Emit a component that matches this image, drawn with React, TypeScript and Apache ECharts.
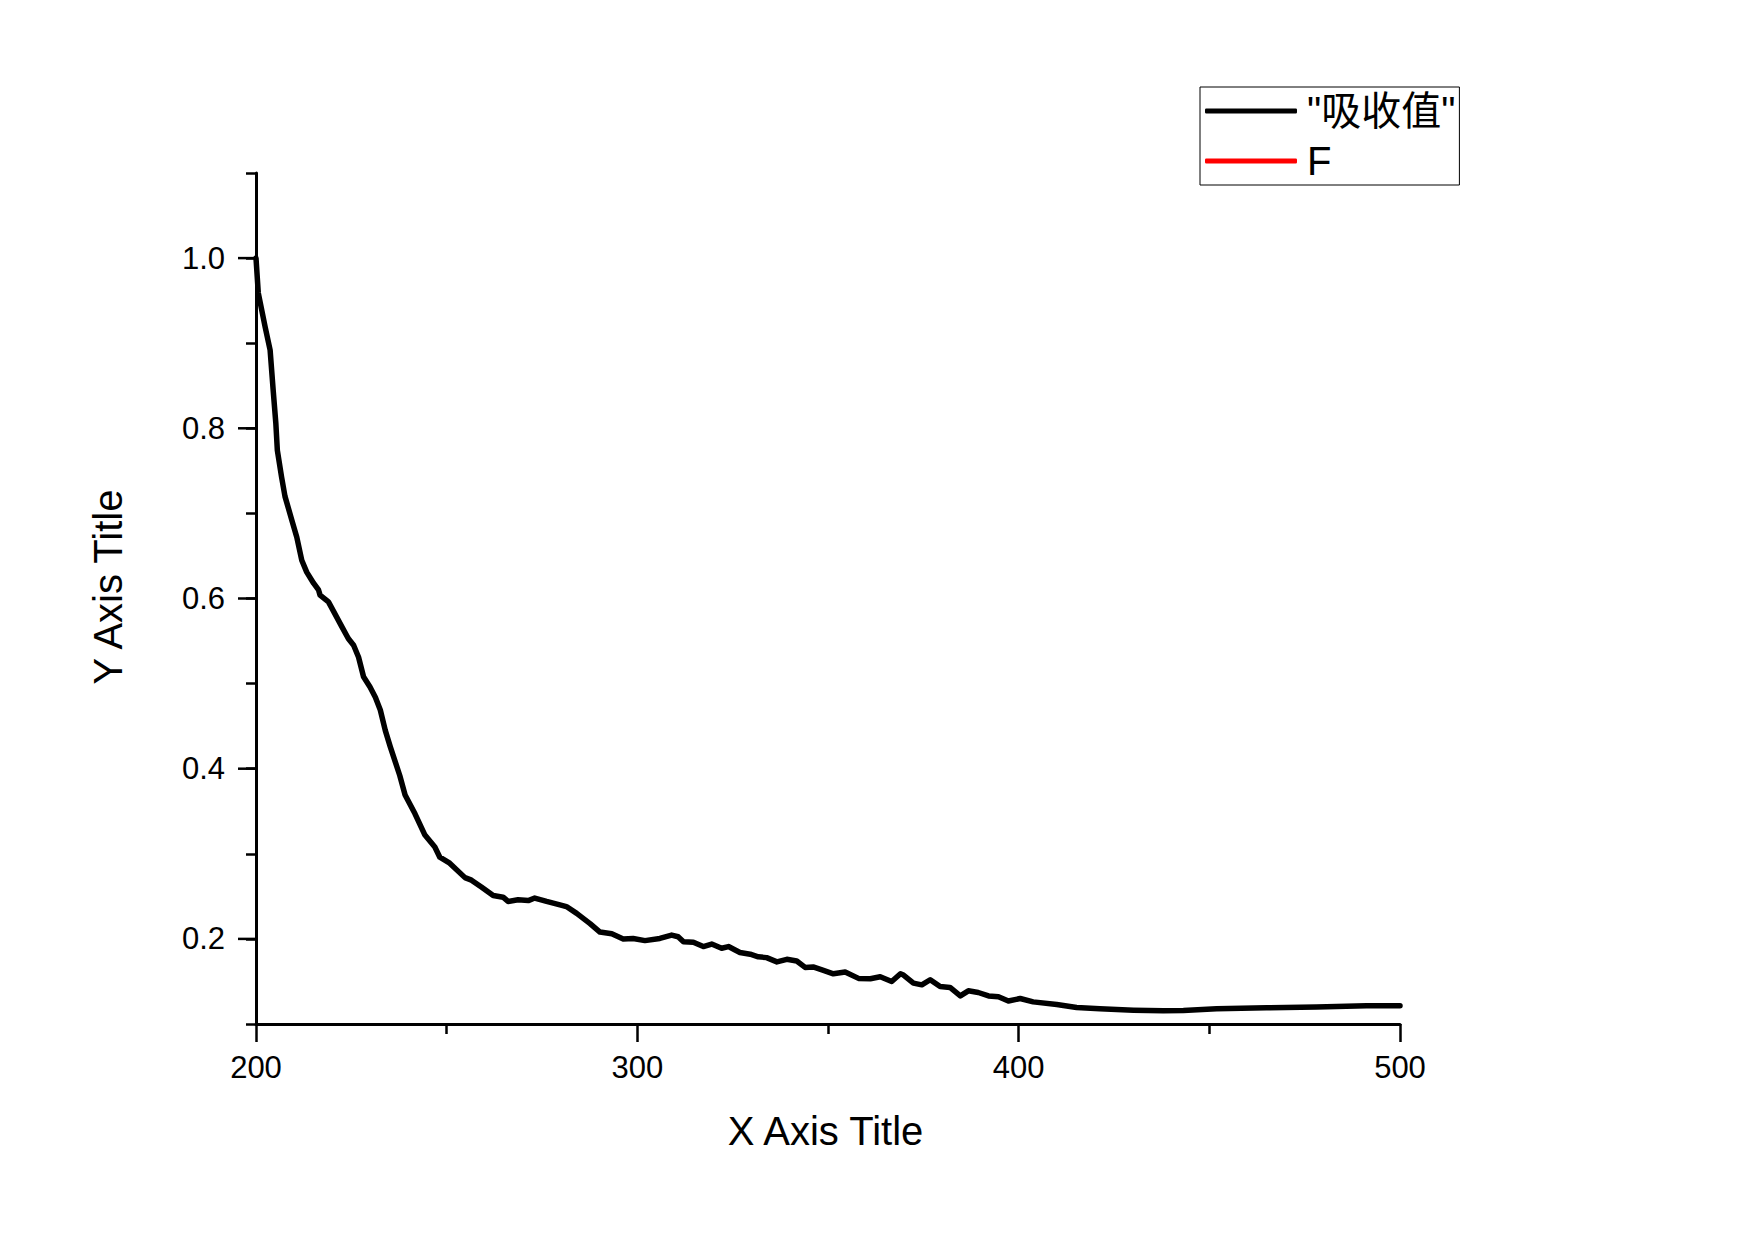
import React, { useEffect, useRef } from "react";
import * as echarts from "echarts";

const wavelength = [
  200, 200.6, 202.4, 203.7, 204.5, 205.2, 205.6, 206.7, 207.6, 209.4,
  210.7, 212.0, 213.3, 215.1, 216.4, 216.8, 219.0, 220.7, 222.5, 224.2,
  225.6, 226.9, 228.2, 229.9, 231.3, 232.6, 233.9, 235.2,
  237.7, 239.1, 241.7, 244.3, 246.9, 248.2, 250.8, 254.8, 256.5, 259.1,
  262.2, 264.8, 266.1, 268.7, 271.4, 273.1, 276.2, 279.7, 281.4, 284.1,
  287.6, 290.2, 293.3, 296.3, 298.9, 302.0, 305.9, 309.0, 310.7, 312.1,
  314.7, 317.3, 319.5, 322.1, 323.9, 326.9, 329.6, 331.7, 333.9, 336.6,
  339.2, 341.8, 344.0, 346.1, 348.8, 351.4, 354.5, 358.0, 361.1, 363.7,
  366.7, 369.0,
  369.8, 372.4, 374.6, 376.8, 379.4, 382.0, 384.7, 386.8, 389.4, 392.1,
  394.7, 397.3, 400.4, 403.8, 410.0, 415.2, 421.3, 430.1, 437.9, 443.2,
  451.9, 465.0, 478.1, 491.2, 500,
];

const absorbance = [
  1.0, 0.959, 0.919, 0.892, 0.845, 0.806, 0.774, 0.743, 0.72, 0.692,
  0.672, 0.645, 0.631, 0.618, 0.61, 0.604, 0.596, 0.582, 0.567, 0.553,
  0.545, 0.531, 0.508, 0.496, 0.484, 0.469, 0.445, 0.426,
  0.392, 0.369, 0.347, 0.322, 0.308, 0.296, 0.289, 0.272, 0.269, 0.261,
  0.251, 0.249, 0.244, 0.246, 0.245, 0.248, 0.244, 0.24, 0.238, 0.23,
  0.218, 0.208, 0.206, 0.2, 0.2005, 0.198, 0.2005, 0.2045, 0.2025, 0.1966,
  0.196, 0.191, 0.194, 0.189, 0.191, 0.184, 0.182, 0.179, 0.178, 0.173,
  0.176, 0.174, 0.1665, 0.167, 0.163, 0.159, 0.161, 0.1536, 0.1532, 0.1555,
  0.15, 0.159,
  0.1575, 0.148, 0.146, 0.152, 0.144, 0.143, 0.133, 0.139, 0.137, 0.133,
  0.132, 0.127, 0.13, 0.126, 0.123, 0.1195, 0.118, 0.1163, 0.1155, 0.116,
  0.118, 0.119, 0.12, 0.1214, 0.1214,
];

const seriesNames = ['"吸收值"', "F"];
const majorYTicks = [0.2, 0.4, 0.6, 0.8, 1.0];
const xAxisTitle = "X Axis Title";
const yAxisTitle = "Y Axis Title";

const FONT = "'Liberation Sans', Arial, 'Noto Sans CJK SC', sans-serif";

export default function App() {
  const ref = useRef<HTMLDivElement>(null);

  useEffect(() => {
    if (!ref.current) return;
    const chart = echarts.init(ref.current, null, { renderer: "svg" });
    const mainData = wavelength.map((x, i) => [x, absorbance[i]]);
    const option: any = {
      animation: false,
      backgroundColor: "#fff",
      textStyle: { fontFamily: FONT },
      grid: {
        left: 256,
        right: 353,
        top: 173,
        bottom: 215,
        containLabel: false,
        outerBoundsMode: "none",
      },
      legend: {
        orient: "vertical",
        left: 1200,
        top: 87,
        padding: [4, 4, 4, 5],
        itemGap: 10,
        itemWidth: 92,
        itemHeight: 5,
        icon: "roundRect",
        borderColor: "#000",
        borderWidth: 1,
        data: seriesNames,
        textStyle: {
          fontFamily: FONT,
          fontSize: 40,
          lineHeight: 40,
          color: "#000",
          padding: [0, 0, 0, 5],
        },
      },
      xAxis: {
        type: "value",
        min: 200,
        max: 500,
        interval: 100,
        name: xAxisTitle,
        nameLocation: "middle",
        nameGap: 87,
        nameTextStyle: { fontFamily: FONT, fontSize: 40, color: "#000", padding: [0, 5, 0, 0] },
        axisLine: { show: true, onZero: false, lineStyle: { color: "#000", width: 3 } },
        axisTick: { show: true, length: 18, lineStyle: { color: "#000", width: 2.5 } },
        minorTick: { show: true, splitNumber: 2, length: 10, lineStyle: { color: "#000", width: 2.5 } },
        axisLabel: { fontFamily: FONT, fontSize: 31, color: "#000", margin: 28 },
        splitLine: { show: false },
        minorSplitLine: { show: false },
      },
      yAxis: {
        type: "value",
        min: 0.1,
        max: 1.1,
        interval: 0.1,
        name: yAxisTitle,
        nameLocation: "middle",
        nameGap: 128,
        nameTextStyle: { fontFamily: FONT, fontSize: 40, color: "#000", padding: [0, 0, 0, 23] },
        axisLine: { show: true, onZero: false, lineStyle: { color: "#000", width: 3 } },
        axisTick: { show: true, length: 10, lineStyle: { color: "#000", width: 2.5 } },
        axisLabel: {
          fontFamily: FONT,
          fontSize: 31,
          color: "#000",
          margin: 31,
          formatter: (v: number) => {
            const k = Math.round(v * 10);
            return k % 2 === 0 ? (k / 10).toFixed(1) : "";
          },
        },
        splitLine: { show: false },
      },
      series: [
        {
          name: seriesNames[0],
          type: "line",
          data: mainData,
          showSymbol: false,
          symbol: "none",
          lineStyle: { color: "#000", width: 5.5, join: "round", cap: "round" },
          itemStyle: { color: "#000" },
          z: 3,
        },
        {
          name: seriesNames[1],
          type: "line",
          data: [],
          showSymbol: false,
          lineStyle: { color: "#ff0000", width: 5.5 },
          itemStyle: { color: "#ff0000" },
        },
        {
          name: "majorTicks",
          type: "custom",
          clip: false,
          silent: true,
          data: majorYTicks.map((v) => [200, v]),
          renderItem: (params: any, api: any) => {
            const p = api.coord([api.value(0), api.value(1)]);
            return {
              type: "line",
              shape: { x1: p[0] - 18, y1: p[1], x2: p[0], y2: p[1] },
              style: { stroke: "#000", lineWidth: 2.5 },
            };
          },
          z: 4,
        },
      ],
    };
    chart.setOption(option);
    return () => chart.dispose();
  }, []);

  return (
    <div
      ref={ref}
      style={{ position: "fixed", left: 0, top: 0, width: 1753, height: 1239, background: "#fff" }}
    />
  );
}
